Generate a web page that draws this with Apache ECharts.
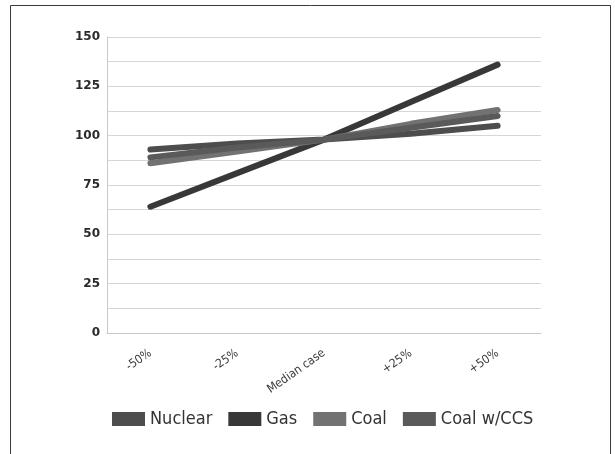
<!DOCTYPE html>
<html>
<head>
<meta charset="utf-8">
<script src="https://cdn.jsdelivr.net/npm/echarts@6/dist/echarts.min.js"></script>
<style>
  html, body { margin: 0; padding: 0; background: #fff; }
  #chart { width: 615px; height: 454px; }
</style>
</head>
<body>
<div id="chart"></div>
<script>
// Sensitivity of generation cost to fuel price change (median case = ~100)
const categories = ['-50%', '-25%', 'Median case', '+25%', '+50%'];
const nuclear = [93, 96, 98, 101, 105];
const gas = [64, 81, 98, 117, 136];
const coal = [86, 92, 98, 106, 113];
const coalCCS = [89, 94, 98, 104, 110];
const yTicks = [0, 25, 50, 75, 100, 125, 150];

const seriesDefs = [
  { name: 'Nuclear', data: nuclear, color: '#4d4d4d' },
  { name: 'Gas', data: gas, color: '#383838' },
  { name: 'Coal', data: coal, color: '#727272' },
  { name: 'Coal w/CCS', data: coalCCS, color: '#5a5a5a' }
];

const chart = echarts.init(document.getElementById('chart'), null, { renderer: 'canvas' });
chart.setOption({
  animation: false,
  backgroundColor: '#fff',
  graphic: [{
    type: 'rect',
    shape: { x: 10.5, y: 5.5, width: 600, height: 470 },
    style: { fill: 'none', stroke: '#3a3a3a', lineWidth: 1 },
    silent: true
  }],
  grid: { left: 107, right: 74, top: 37, bottom: 121 },
  legend: {
    bottom: 21,
    left: 107,
    itemWidth: 33,
    itemHeight: 14,
    itemGap: 16,
    icon: 'rect',
    textStyle: {
      fontFamily: 'DejaVu Sans Condensed, Liberation Sans Narrow, sans-serif',
      fontSize: 18,
      color: '#333'
    },
    data: seriesDefs.map(s => s.name)
  },
  xAxis: {
    type: 'category',
    data: categories,
    boundaryGap: true,
    axisLine: { lineStyle: { color: '#c8c8c8', width: 1 } },
    axisTick: { inside: true, length: 5, lineStyle: { color: '#c8c8c8' } },
    axisLabel: {
      rotate: 35,
      margin: 19,
      fontSize: 12,
      color: '#3a3a3a',
      fontFamily: 'DejaVu Sans Condensed, sans-serif'
    }
  },
  yAxis: {
    type: 'value',
    min: 0,
    max: 150,
    interval: 12.5,
    axisLine: { show: true, lineStyle: { color: '#c8c8c8' } },
    axisTick: { show: false },
    splitLine: { lineStyle: { color: '#d6d6d6', width: 1 } },
    axisLabel: {
      margin: 7,
      fontSize: 12,
      fontWeight: 'bold',
      color: '#2a2a2a',
      fontFamily: 'DejaVu Sans, sans-serif',
      formatter: v => (yTicks.indexOf(v) >= 0 ? String(v) : '')
    }
  },
  series: seriesDefs.map(s => ({
    name: s.name,
    type: 'line',
    data: s.data,
    symbol: 'none',
    color: s.color,
    lineStyle: { width: 6, color: s.color, cap: 'round' }
  }))
});
</script>
</body>
</html>
